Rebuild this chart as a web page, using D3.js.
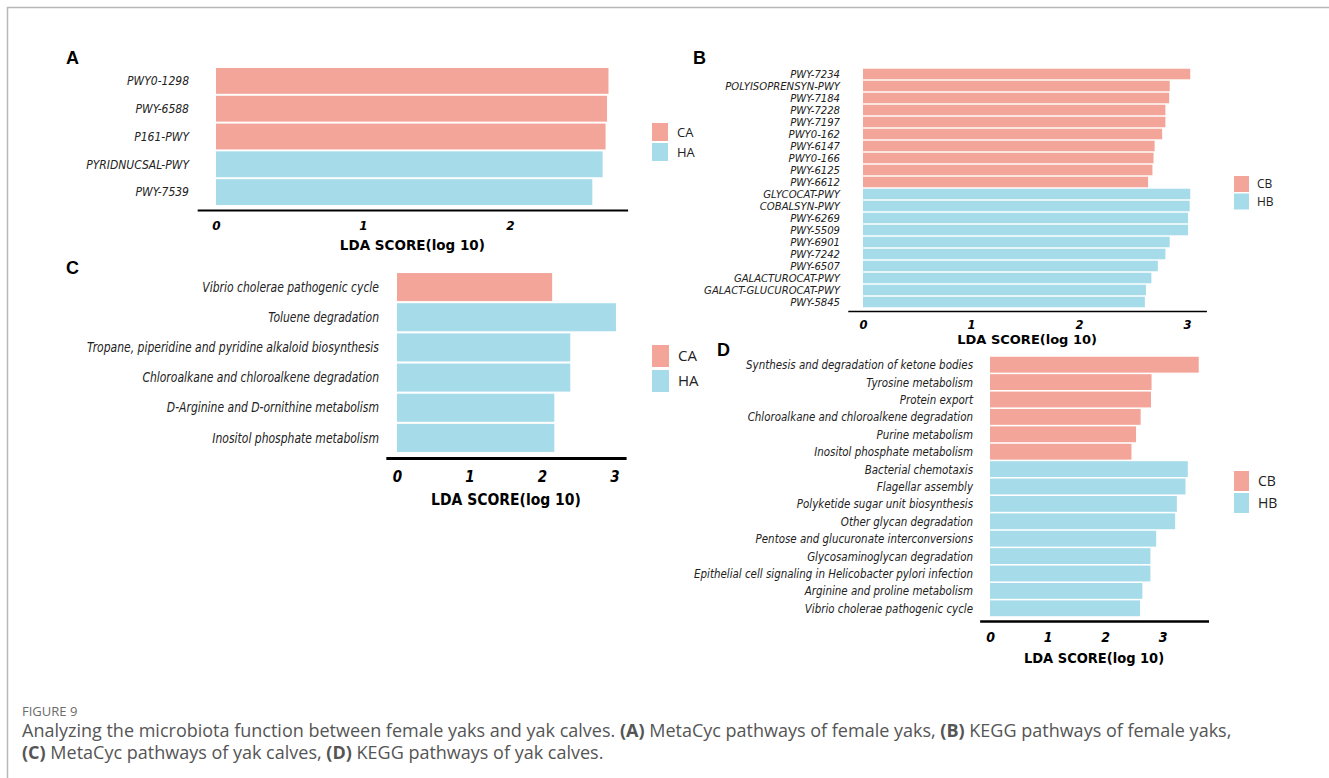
<!DOCTYPE html>
<html>
<head>
<meta charset="utf-8">
<script src="https://cdn.jsdelivr.net/npm/d3@7"></script>
<style>
  body { margin: 0; background: #fff; }
  svg { display: block; }
</style>
</head>
<body>
<svg id="fig" width="1329" height="778"></svg>
<script>
// A - MetaCyc, female yaks
const aLabels = ["PWY0-1298", "PWY-6588", "P161-PWY", "PYRIDNUCSAL-PWY", "PWY-7539"];
const aValues = [2.67, 2.66, 2.65, 2.63, 2.56];
const aGroups = ["CA", "CA", "CA", "HA", "HA"];
const aTicks = [0, 1, 2];

// B - KEGG, female yaks
const bLabels = ["PWY-7234", "POLYISOPRENSYN-PWY", "PWY-7184", "PWY-7228", "PWY-7197", "PWY0-162",
  "PWY-6147", "PWY0-166", "PWY-6125", "PWY-6612", "GLYCOCAT-PWY", "COBALSYN-PWY", "PWY-6269",
  "PWY-5509", "PWY-6901", "PWY-7242", "PWY-6507", "GALACTUROCAT-PWY", "GALACT-GLUCUROCAT-PWY", "PWY-5845"];
const bValues = [3.03, 2.84, 2.835, 2.80, 2.80, 2.77, 2.70, 2.69, 2.68, 2.64,
  3.03, 3.025, 3.01, 3.01, 2.84, 2.80, 2.73, 2.67, 2.62, 2.61];
const bGroups = ["CB", "CB", "CB", "CB", "CB", "CB", "CB", "CB", "CB", "CB",
  "HB", "HB", "HB", "HB", "HB", "HB", "HB", "HB", "HB", "HB"];
const bTicks = [0, 1, 2, 3];

// C - MetaCyc, yak calves
const cLabels = ["Vibrio cholerae pathogenic cycle", "Toluene degradation",
  "Tropane, piperidine and pyridine alkaloid biosynthesis", "Chloroalkane and chloroalkene degradation",
  "D-Arginine and D-ornithine metabolism", "Inositol phosphate metabolism"];
const cValues = [2.14, 3.02, 2.39, 2.39, 2.17, 2.17];
const cGroups = ["CA", "HA", "HA", "HA", "HA", "HA"];
const cTicks = [0, 1, 2, 3];

// D - KEGG, yak calves
const dLabels = ["Synthesis and degradation of ketone bodies", "Tyrosine metabolism", "Protein export",
  "Chloroalkane and chloroalkene degradation", "Purine metabolism", "Inositol phosphate metabolism",
  "Bacterial chemotaxis", "Flagellar assembly", "Polyketide sugar unit biosynthesis", "Other glycan degradation",
  "Pentose and glucuronate interconversions", "Glycosaminoglycan degradation",
  "Epithelial cell signaling in Helicobacter pylori infection", "Arginine and proline metabolism",
  "Vibrio cholerae pathogenic cycle"];
const dValues = [3.63, 2.81, 2.80, 2.62, 2.54, 2.46, 3.44, 3.40, 3.25, 3.22, 2.89, 2.79, 2.79, 2.65, 2.61];
const dGroups = ["CB", "CB", "CB", "CB", "CB", "CB", "HB", "HB", "HB", "HB", "HB", "HB", "HB", "HB", "HB"];
const dTicks = [0, 1, 2, 3];

const xTitle = "LDA SCORE(log 10)";

const color = d3.scaleOrdinal()
  .domain(["CA", "HA", "CB", "HB"])
  .range(["#f4a599", "#a6dcea", "#f4a599", "#a6dcea"]);

const narrow = "'DejaVu Sans Condensed', 'DejaVu Sans', sans-serif";
const boldFont = "'DejaVu Sans', sans-serif";
const boldCond = "'DejaVu Sans Condensed', 'DejaVu Sans', sans-serif";

const svg = d3.select("#fig");

// frame
svg.append("path")
  .attr("d", "M7.5,778 V7.5 H1329")
  .attr("fill", "none")
  .attr("stroke", "#b8b8b8")
  .attr("stroke-width", 1.5);

function drawPanel(p) {
  const g = svg.append("g");
  const n = p.labels.length;

  const x = d3.scaleLinear()
    .domain(p.axisDomain)
    .range([p.x0 + p.axisDomain[0] * p.unit, p.x0 + p.axisDomain[1] * p.unit]);

  const y = d3.scaleBand()
    .domain(d3.range(n))
    .range([p.top, p.bottom])
    .paddingInner(p.pad)
    .paddingOuter(p.pad / 2);

  g.selectAll(".bar")
    .data(p.values)
    .join("rect")
    .attr("class", "bar")
    .attr("x", x(0))
    .attr("y", (d, i) => y(i))
    .attr("width", d => x(d) - x(0))
    .attr("height", y.bandwidth())
    .attr("fill", (d, i) => color(p.groups[i]));

  // labels squeezed sideways a bit, the original uses a narrow italic face
  g.selectAll(".lab")
    .data(p.labels)
    .join("text")
    .attr("class", "lab")
    .attr("transform", (d, i) => `translate(${p.labelRight},${y(i) + y.bandwidth() / 2}) scale(${p.labelSx},1)`)
    .attr("dy", "0.35em")
    .attr("text-anchor", "end")
    .style("font-family", narrow)
    .style("font-style", "italic")
    .style("font-size", p.labelSize + "px")
    .style("fill", "#222")
    .text(d => d);

  const ax = g.append("g")
    .attr("transform", `translate(0,${p.axisY})`)
    .call(d3.axisBottom(x).tickValues(p.ticks).tickSize(0).tickFormat(d3.format("d")));

  ax.select(".domain")
    .attr("stroke", "#000")
    .attr("stroke-width", p.axisWidth);

  ax.selectAll(".tick text")
    .attr("y", p.tickY - p.axisY)
    .attr("dy", "0.35em")
    .style("font-family", p.tickFont)
    .style("font-weight", "bold")
    .style("font-style", "italic")
    .style("font-size", p.tickSize + "px")
    .style("fill", "#000");

  g.append("text")
    .attr("x", (x.range()[0] + x.range()[1]) / 2)
    .attr("y", p.titleY)
    .attr("dy", "0.35em")
    .attr("text-anchor", "middle")
    .style("font-family", p.titleFont)
    .style("font-weight", "bold")
    .style("font-size", p.titleSize + "px")
    .style("fill", "#000")
    .text(xTitle);

  // panel letter
  g.append("text")
    .attr("x", p.letterX)
    .attr("y", p.letterY)
    .style("font-family", "'Liberation Sans', Arial, sans-serif")
    .style("font-weight", "bold")
    .style("font-size", "18px")
    .style("fill", "#000")
    .text(p.letter);

  // legend
  const leg = g.append("g");
  p.legend.forEach((k, i) => {
    leg.append("rect")
      .attr("x", p.legX)
      .attr("y", p.legY + i * (p.legH + p.legGap))
      .attr("width", p.legW)
      .attr("height", p.legH)
      .attr("fill", color(k));
    leg.append("text")
      .attr("x", p.legX + p.legW + p.legTextGap)
      .attr("y", p.legY + i * (p.legH + p.legGap) + p.legH / 2)
      .attr("dy", "0.35em")
      .style("font-family", "'Open Sans', 'Noto Sans', sans-serif")
      .style("font-size", p.legSize + "px")
      .style("fill", "#222")
      .text(k);
  });
}

drawPanel({
  letter: "A", letterX: 66, letterY: 64,
  labels: aLabels, values: aValues, groups: aGroups, ticks: aTicks,
  x0: 216, unit: 147, axisDomain: [-0.128, 2.80],
  top: 67, bottom: 206, pad: 0.07, labelRight: 189, labelSize: 12, labelSx: 1,
  axisY: 210, axisWidth: 2, tickY: 226, tickSize: 12, tickFont: boldFont,
  titleY: 245, titleSize: 13.5, titleFont: boldFont,
  legend: ["CA", "HA"], legX: 652, legY: 123, legW: 16, legH: 18, legGap: 2, legTextGap: 9, legSize: 13
});

drawPanel({
  letter: "B", letterX: 693, letterY: 64,
  labels: bLabels, values: bValues, groups: bGroups, ticks: bTicks,
  x0: 863, unit: 108, axisDomain: [-0.141, 3.18],
  top: 68, bottom: 308, pad: 0.12, labelRight: 840, labelSize: 11.2, labelSx: 1,
  axisY: 311, axisWidth: 1.5, tickY: 325, tickSize: 11.5, tickFont: boldFont,
  titleY: 339, titleSize: 13, titleFont: boldFont,
  legend: ["CB", "HB"], legX: 1234, legY: 176, legW: 15, legH: 16, legGap: 1.5, legTextGap: 8, legSize: 12
});

drawPanel({
  letter: "C", letterX: 66, letterY: 274,
  labels: cLabels, values: cValues, groups: cGroups, ticks: cTicks,
  x0: 397, unit: 72.5, axisDomain: [-0.154, 3.16],
  top: 272, bottom: 453, pad: 0.07, labelRight: 379, labelSize: 13.5, labelSx: 0.89,
  axisY: 458, axisWidth: 3, tickY: 477, tickSize: 15, tickFont: boldCond,
  titleY: 500, titleSize: 15.5, titleFont: boldCond,
  legend: ["CA", "HA"], legX: 652, legY: 345, legW: 17, legH: 22, legGap: 3, legTextGap: 9, legSize: 15
});

drawPanel({
  letter: "D", letterX: 717, letterY: 356,
  labels: dLabels, values: dValues, groups: dGroups, ticks: dTicks,
  x0: 990, unit: 57.5, axisDomain: [-0.18, 3.8],
  top: 356, bottom: 617, pad: 0.09, labelRight: 973, labelSize: 13, labelSx: 0.88,
  axisY: 621, axisWidth: 2.5, tickY: 637, tickSize: 14, tickFont: boldCond,
  titleY: 658, titleSize: 14.5, titleFont: boldCond,
  legend: ["CB", "HB"], legX: 1234, legY: 471, legW: 15, legH: 20, legGap: 2, legTextGap: 9, legSize: 14
});

// caption
const cap = svg.append("g").style("font-family", "'Open Sans', 'Noto Sans', sans-serif");
cap.append("text")
  .attr("x", 22).attr("y", 716)
  .style("font-size", "13px")
  .style("fill", "#6b6b6b")
  .text("FIGURE 9");

const capLines = [
  [["Analyzing the microbiota function between female yaks and yak calves. ", false], ["(A)", true],
   [" MetaCyc pathways of female yaks, ", false], ["(B)", true], [" KEGG pathways of female yaks,", false]],
  [["(C)", true], [" MetaCyc pathways of yak calves, ", false], ["(D)", true], [" KEGG pathways of yak calves.", false]]
];
capLines.forEach((line, i) => {
  const t = cap.append("text")
    .attr("x", 22).attr("y", 737 + i * 22)
    .style("font-size", "18px")
    .style("fill", "#555");
  line.forEach(([s, b]) => {
    t.append("tspan").style("font-weight", b ? "bold" : "normal").text(s);
  });
});
</script>
</body>
</html>
